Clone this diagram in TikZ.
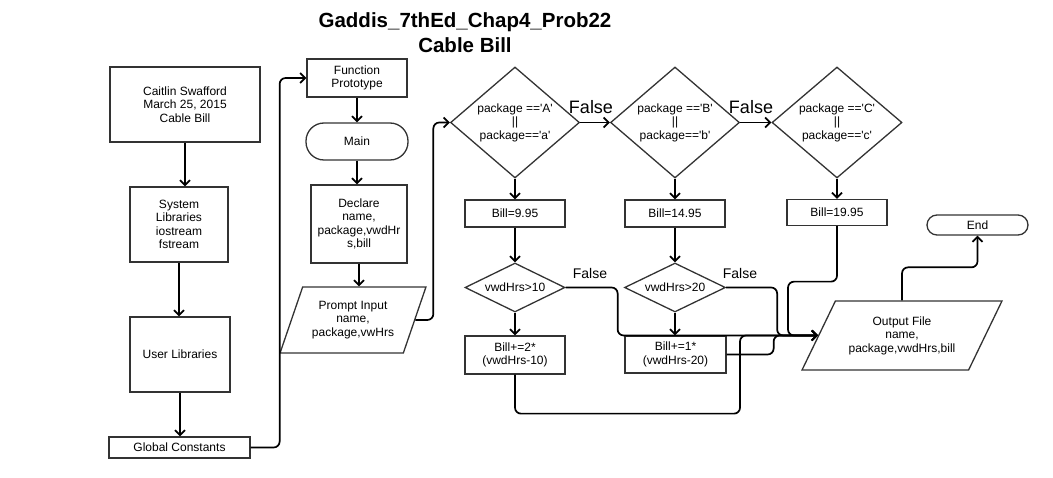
\documentclass[tikz,border=0pt]{standalone}
\usepackage{fontspec}
\setmainfont{Liberation Sans}
\usetikzlibrary{positioning,arrows.meta,shapes.geometric}
\newcommand{\q}{\textquotesingle}

\begin{document}
\begin{tikzpicture}[x=1pt,y=-1pt,
  >={Straight Barb[length=5pt,width=10pt]},
  box/.style={draw=black!80,line width=1.3pt,align=center,inner sep=0pt,
    font=\fontsize{12}{13.5}\selectfont},
  term/.style={box,rounded corners=#1},
  test/.style={box,diamond,aspect=#1},
  io/.style={box,trapezium,trapezium stretches=true},
  conn/.style={line width=1.7pt,rounded corners=6pt,->},
  tag/.style={font=\fontsize{#1}{#1}\selectfont}]
  \useasboundingbox (0,0) rectangle (1053,478);
  \node[font=\bfseries\fontsize{20.5}{25}\selectfont,align=center] (title) at (465,32.5)
    {Gaddis\_7thEd\_Chap4\_Prob22\\Cable Bill};
  % left column
  \node[box,minimum width=150,minimum height=75] (author) at (185,104.5)
    {Caitlin Swafford\\March 25, 2015\\Cable Bill};
  \node[box,minimum width=98,minimum height=75] (syslib) at (179,224.5)
    {System\\Libraries\\iostream\\fstream};
  \node[box,minimum width=100,minimum height=75] (userlib) at (180,354.5) {User Libraries};
  \node[box,minimum width=141,minimum height=21] (globals) at (179.5,447.5) {Global Constants};
  % main column
  \node[box,minimum width=100,minimum height=38] (proto) at (357,78) {Function\\Prototype};
  \node[term=18pt,minimum width=102,minimum height=37] (main) at (357,141.5) {Main};
  \node[box,minimum width=96,minimum height=78] (declare) at (359,224)
    {Declare\\name,\\package,vwdHr\\s,bill};
  \node[io,trapezium left angle=64,trapezium right angle=116,
    minimum width=146,minimum height=66] (prompt) at (353,320)
    {Prompt Input\\name,\\package,vwHrs};
  % package tests
  \node[test=1.16,minimum width=129,minimum height=111] (diamA) at (515,122.5)
    {package ==\q A\q\\||\\package==\q a\q};
  \node[test=1.16,minimum width=129,minimum height=111] (diamB) at (675,122.5)
    {package ==\q B\q\\||\\package==\q b\q};
  \node[test=1.16,minimum width=130,minimum height=111] (diamC) at (837,122.5)
    {package ==\q C\q\\||\\package==\q c\q};
  \node[box,minimum width=100,minimum height=27] (billA) at (515,213.5) {Bill=9.95};
  \node[box,minimum width=100,minimum height=27] (billB) at (675,213.5) {Bill=14.95};
  \node[box,minimum width=100,minimum height=26] (billC) at (837,212.5) {Bill=19.95};
  \node[test=2,minimum width=100,minimum height=49] (chkA) at (515,287.5) {vwdHrs>10};
  \node[test=2,minimum width=101,minimum height=49] (chkB) at (675,287.5) {vwdHrs>20};
  \node[box,minimum width=100,minimum height=38] (addA) at (515,355) {Bill+=2*\\(vwdHrs-10)};
  \node[box,minimum width=101,minimum height=37] (addB) at (675.5,354.5) {Bill+=1*\\(vwdHrs-20)};
  \node[io,trapezium left angle=55,trapezium right angle=125,
    minimum width=200,minimum height=69] (out) at (902,335.5)
    {Output File\\name,\\package,vwdHrs,bill};
  \node[term=10pt,minimum width=101,minimum height=20] (endt) at (977.5,225) {End};
  \node[tag=18] (falseA) at (591,107) {False};
  \node[tag=18] (falseB) at (751,107) {False};
  \node[tag=14] (falseC) at (590,273) {False};
  \node[tag=14] (falseD) at (740,273) {False};
  % connectors
  \draw[conn] (author.south) -- (author.south |- syslib.north);
  \draw[conn] (syslib.south) -- (syslib.south |- userlib.north);
  \draw[conn] (userlib.south) -- (userlib.south |- globals.north);
  \draw[conn] (globals.east) -- ++(29,0) |- (proto.west);
  \draw[conn] (proto.south) -- (main.north);
  \draw[conn] (main.south) -- (main.south |- declare.north);
  \draw[conn] (declare.south) -- (declare.south |- prompt.north);
  \draw[conn] (prompt.east) -- ++(18,0) |- (diamA.west);
  \draw[conn] (diamA.east) -- (diamB.west);
  \draw[conn] (diamB.east) -- (diamC.west);
  \draw[conn] (diamA.south) -- (billA.north);
  \draw[conn] (diamB.south) -- (billB.north);
  \draw[conn] (diamC.south) -- (billC.north);
  \draw[conn] (billA.south) -- (chkA.north);
  \draw[conn] (billB.south) -- (chkB.north);
  \draw[conn] (chkA.south) -- (addA.north);
  \draw[conn] (chkB.south) -- (chkB.south |- addB.north);
  \draw[conn] (chkA.east) -- ++(52,0) |- (out.west);
  \draw[conn] (chkB.east) -- ++(51,0) |- (out.west);
  \draw[conn] (addB.east) -- ++(47,0) |- (out.west);
  \draw[conn] (addA.south) -- ++(0,39) -- ++(225,0) |- (out.west);
  \draw[conn] (billC.south) -- ++(0,55.5) -- ++(-49,0) |- (out.west);
  \draw[conn] (out.north) -- ++(0,-33) -| (endt.south);
\end{tikzpicture}
\end{document}
